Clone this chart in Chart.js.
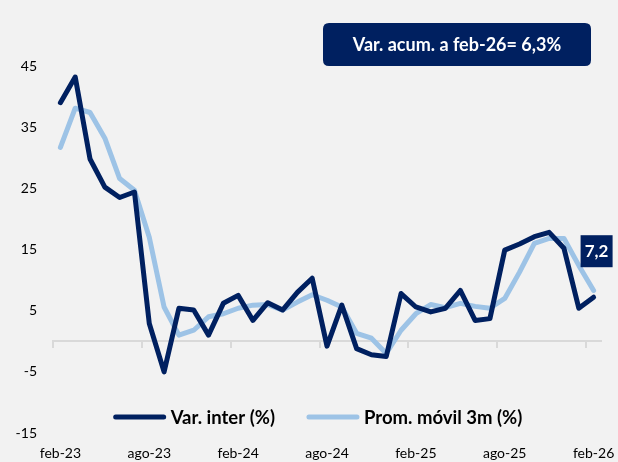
<!DOCTYPE html>
<html>
<head>
<meta charset="utf-8">
<script src="https://cdn.jsdelivr.net/npm/chart.js@4"></script>
<style>
  html, body { margin: 0; padding: 0; background: #f2f2f2; }
  #wrap { width: 618px; height: 462px; }
</style>
</head>
<body>
<div id="wrap"><canvas id="varChart" width="618" height="462"></canvas></div>
<script>
// monthly labels, feb-23 .. feb-26
const months = [
    'feb-23', 'mar-23', 'abr-23', 'may-23', 'jun-23', 'jul-23', 'ago-23', 'sep-23', 'oct-23', 'nov-23', 'dic-23', 'ene-24',
    'feb-24', 'mar-24', 'abr-24', 'may-24', 'jun-24', 'jul-24', 'ago-24', 'sep-24', 'oct-24', 'nov-24', 'dic-24', 'ene-25',
    'feb-25', 'mar-25', 'abr-25', 'may-25', 'jun-25', 'jul-25', 'ago-25', 'sep-25', 'oct-25', 'nov-25', 'dic-25', 'ene-26',
    'feb-26'
];

// Var. inter (%)
const varInter = [
    39.0, 43.2, 29.8, 25.2, 23.5, 24.4, 2.9, -5.0, 5.4, 5.1, 1.0, 6.2,
    7.5, 3.4, 6.3, 5.1, 8.0, 10.3, -0.8, 5.9, -1.2, -2.2, -2.5, 7.8,
    5.6, 4.8, 5.4, 8.3, 3.4, 3.7, 14.9, 15.9, 17.1, 17.8, 15.2, 5.4,
    7.2
];

// Prom. móvil 3m (%)
const promMovil = [
    31.7, 38.1, 37.4, 33.2, 26.6, 24.7, 17.0, 5.6, 1.0, 1.8, 4.0, 4.5,
    5.4, 5.9, 6.0, 5.1, 6.4, 7.6, 6.7, 5.6, 1.3, 0.5, -2.0, 1.8,
    4.5, 6.0, 5.5, 6.2, 5.7, 5.4, 7.0, 11.3, 16.0, 16.8, 16.8, 12.4,
    8.3
];

const titleText = 'Var. acum. a feb-26= 6,3%';

const darkBlue = '#002060';
const lightBlue = '#9dc3e6';
const fontFamily = 'Lato, "Open Sans", sans-serif';

function roundBox(ctx, x, y, w, h, r) {
    ctx.beginPath();
    ctx.moveTo(x + r, y);
    ctx.lineTo(x + w - r, y);
    ctx.quadraticCurveTo(x + w, y, x + w, y + r);
    ctx.lineTo(x + w, y + h - r);
    ctx.quadraticCurveTo(x + w, y + h, x + w - r, y + h);
    ctx.lineTo(x + r, y + h);
    ctx.quadraticCurveTo(x, y + h, x, y + h - r);
    ctx.lineTo(x, y + r);
    ctx.quadraticCurveTo(x, y, x + r, y);
    ctx.closePath();
}

// title box, last value label and the legend inside the plot
const overlayPlugin = {
    id: 'overlay',
    afterDraw(chart) {
        const ctx = chart.ctx;
        const xs = chart.scales.x;
        const ys = chart.scales.y;
        ctx.save();

        // title box
        ctx.fillStyle = darkBlue;
        roundBox(ctx, 323, 23, 268, 43, 6);
        ctx.fill();
        ctx.fillStyle = '#ffffff';
        ctx.font = 'bold 18px ' + fontFamily;
        ctx.textAlign = 'center';
        ctx.textBaseline = 'middle';
        ctx.fillText(titleText, 457, 45);

        // last value box
        const last = varInter.length - 1;
        const px = xs.getPixelForValue(last);
        const py = ys.getPixelForValue(varInter[last]);
        ctx.fillStyle = darkBlue;
        ctx.fillRect(px - 13, py - 62, 32, 32);
        ctx.fillStyle = '#ffffff';
        ctx.font = 'bold 17px ' + fontFamily;
        ctx.fillText(varInter[last].toFixed(1).replace('.', ','), px + 3, py - 46);

        // legend
        const sets = chart.data.datasets;
        ctx.font = 'bold 18.5px ' + fontFamily;
        const lineLen = 52, gap = 5, itemGap = 32;
        let total = 0;
        sets.forEach((ds, i) => {
            total += lineLen + gap + ctx.measureText(ds.label).width;
            if (i < sets.length - 1) total += itemGap;
        });
        let x = 318 - total / 2;
        const ly = 417;
        ctx.textAlign = 'left';
        sets.forEach(ds => {
            ctx.strokeStyle = ds.borderColor;
            ctx.lineWidth = 5;
            ctx.lineCap = 'round';
            ctx.beginPath();
            ctx.moveTo(x + 2, ly);
            ctx.lineTo(x + lineLen - 2, ly);
            ctx.stroke();
            x += lineLen + gap;
            ctx.fillStyle = '#000000';
            ctx.fillText(ds.label, x, ly + 1);
            x += ctx.measureText(ds.label).width + itemGap;
        });

        ctx.restore();
    }
};

const tickFont = { family: fontFamily, size: 14 };

new Chart(document.getElementById('varChart'), {
    type: 'line',
    data: {
        labels: months,
        datasets: [
            {
                label: 'Var. inter (%)',
                data: varInter,
                borderColor: darkBlue,
                borderWidth: 5,
                pointRadius: 0,
                tension: 0,
                borderJoinStyle: 'round',
                borderCapStyle: 'round',
                xAxisID: 'x'
            },
            {
                label: 'Prom. móvil 3m (%)',
                data: promMovil,
                borderColor: lightBlue,
                borderWidth: 5,
                pointRadius: 0,
                tension: 0,
                borderJoinStyle: 'round',
                borderCapStyle: 'round',
                xAxisID: 'x'
            }
        ]
    },
    options: {
        responsive: false,
        animation: false,
        layout: { padding: { top: 66, right: 17, left: 0, bottom: 0 } },
        plugins: {
            legend: { display: false },
            tooltip: { enabled: false }
        },
        scales: {
            x: {
                type: 'category',
                position: { y: 0 },
                offset: true,
                afterFit: s => { s.height = 0; s.paddingLeft = 0; s.paddingRight = 0; },
                ticks: { display: false, autoSkip: false },
                grid: {
                    display: true,
                    offset: true,
                    drawOnChartArea: false,
                    drawTicks: true,
                    tickLength: 6,
                    lineWidth: 2,
                    color: c => (c.index % 6 === 0 ? '#d9d9d9' : 'rgba(0,0,0,0)')
                },
                border: { display: true, color: '#d9d9d9', width: 2 }
            },
            x2: {
                type: 'category',
                position: 'bottom',
                offset: true,
                afterFit: s => { s.height = 29; s.paddingLeft = 0; s.paddingRight = 0; },
                grid: { display: false, drawTicks: false },
                border: { display: false },
                ticks: {
                    autoSkip: false,
                    maxRotation: 0,
                    padding: 12,
                    font: tickFont,
                    color: '#000000',
                    callback: (v, i) => (i % 6 === 0 ? months[i] : '')
                }
            },
            y: {
                min: -15,
                max: 45,
                afterFit: s => { s.width = 53; },
                ticks: { stepSize: 10, padding: 16, font: tickFont, color: '#000000' },
                grid: { display: false, drawTicks: false },
                border: { display: false }
            }
        }
    },
    plugins: [overlayPlugin]
});
</script>
</body>
</html>
